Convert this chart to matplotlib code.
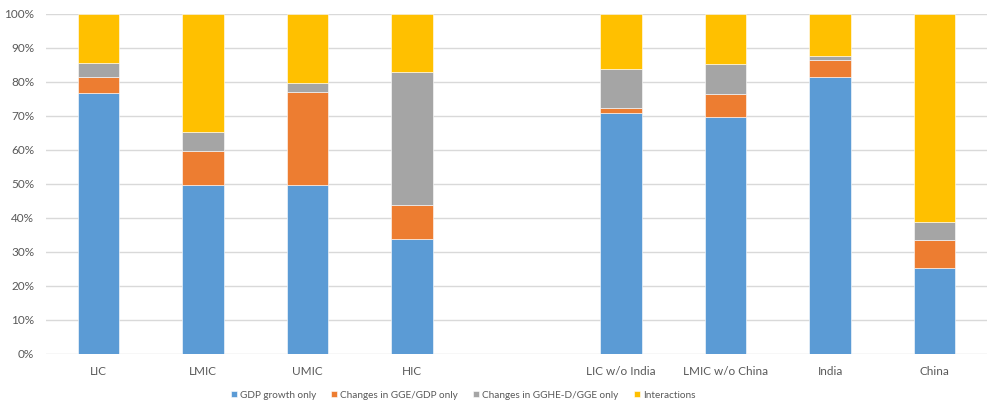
import matplotlib.pyplot as plt
import numpy as np

plt.rcParams['font.family'] = ['Lato', 'DejaVu Sans']

categories = ["LIC", "LMIC", "UMIC", "HIC", "", "LIC w/o India", "LMIC w/o China", "India", "China"]
series_names = ["GDP growth only", "Changes in GGE/GDP only", "Changes in GGHE-D/GGE only", "Interactions"]
gdp = [76.9, 49.6, 49.6, 33.8, 0, 71.0, 69.6, 81.4, 25.4]
gge_gdp = [4.5, 10.1, 27.5, 10.0, 0, 1.4, 6.9, 5.2, 8.0]
gghe_gge = [4.3, 5.6, 2.6, 39.1, 0, 11.4, 8.9, 1.0, 5.4]
interact = [14.3, 34.7, 20.3, 17.1, 0, 16.2, 14.6, 12.4, 61.2]
colors = ["#5b9bd5", "#ed7d31", "#a5a5a5", "#ffc000"]

fig = plt.figure(figsize=(10, 4.08), dpi=100)
ax = fig.add_axes([0.046, 0.1324, 0.941, 0.8333])

x = np.arange(len(categories))
bottom = np.zeros(len(categories))
for vals, name, c in zip([gdp, gge_gdp, gghe_gge, interact], series_names, colors):
    vals = np.array(vals)
    ax.bar(x, vals, width=0.396, bottom=bottom, color=c, label=name,
           edgecolor="white", linewidth=0.4, zorder=3)
    bottom += vals

ax.set_xlim(-0.5, len(categories) - 0.5)
ax.set_ylim(0, 100)
ax.set_yticks(np.arange(0, 101, 10))
ax.set_yticklabels([f"{v}%" for v in range(0, 101, 10)])
ax.set_xticks(x)
ax.set_xticklabels(categories)
ax.tick_params(axis="both", length=0, colors="#595959", labelsize=8.5)
ax.tick_params(axis="x", pad=9)
ax.tick_params(axis="y", pad=8.5)
ax.grid(axis="y", color="#d9d9d9", linewidth=1, zorder=0)
for s in ax.spines.values():
    s.set_visible(False)

fig.legend(loc="center", bbox_to_anchor=(0.463, 1 - 395 / 408), ncol=4, frameon=False,
           fontsize=7.2, handlelength=0.62, handleheight=0.62, handletextpad=0.3,
           columnspacing=1.5, labelcolor="#595959")

fig.savefig("out.png", dpi=100)
